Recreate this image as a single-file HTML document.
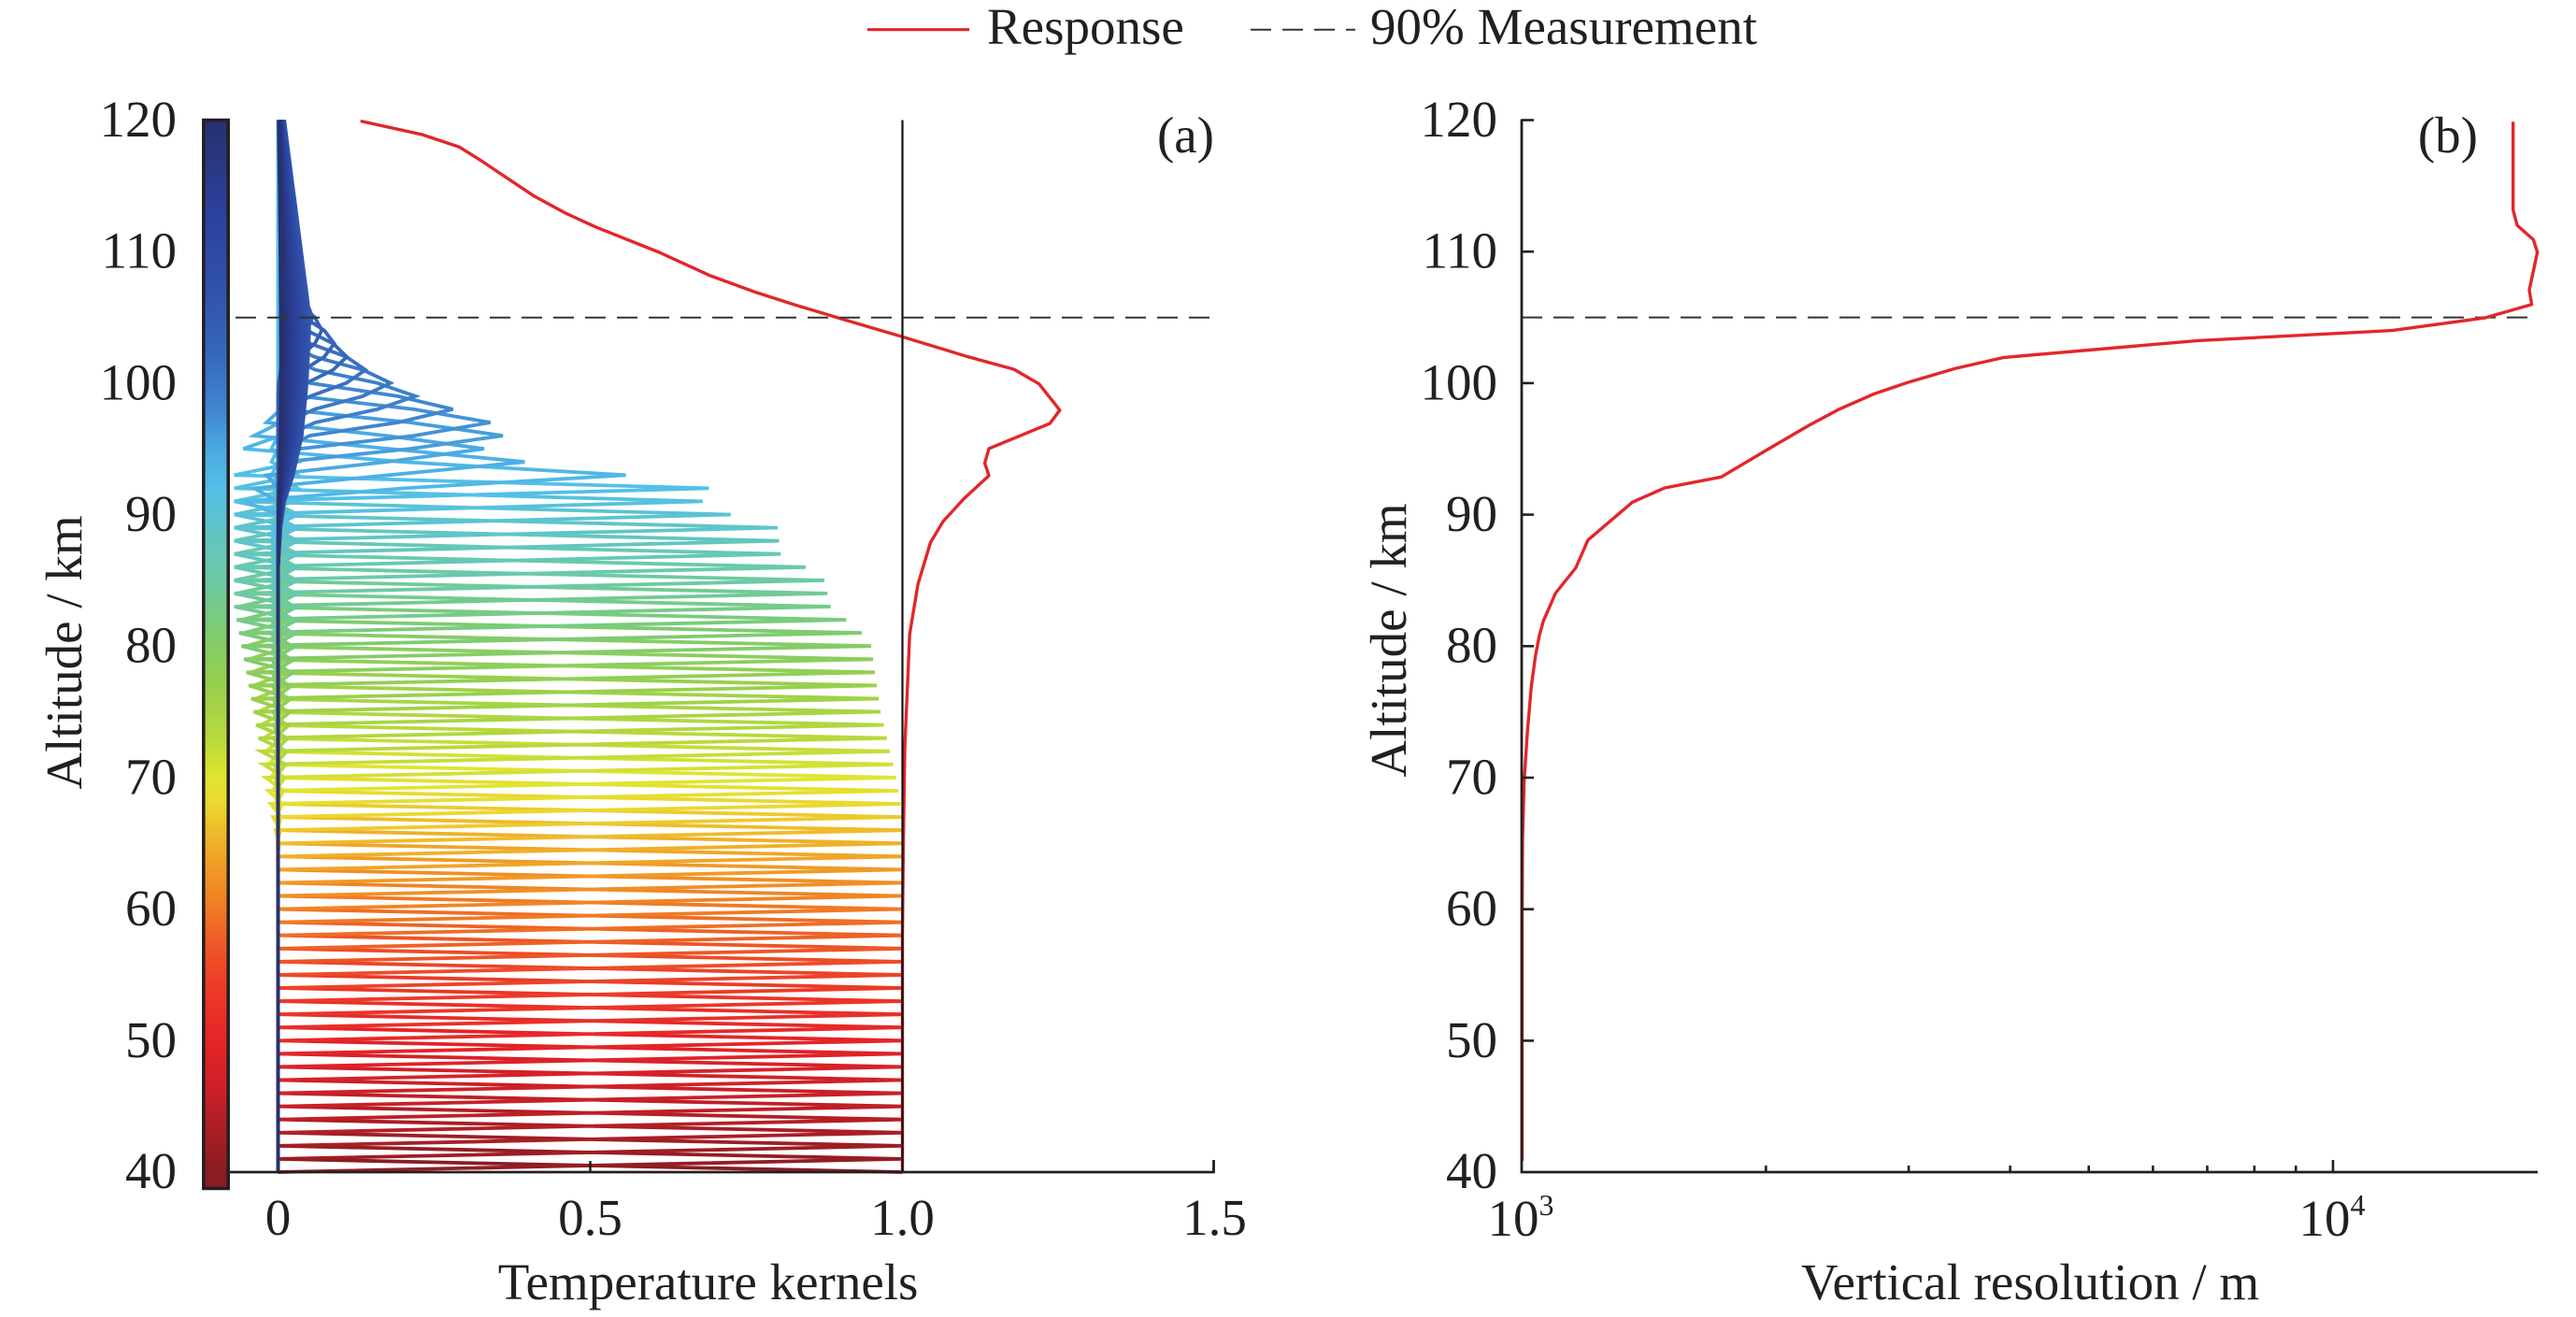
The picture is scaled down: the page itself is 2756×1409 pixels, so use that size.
<!DOCTYPE html>
<html>
<head>
<meta charset="utf-8">
<style>
html,body{margin:0;padding:0;background:#fff;}
svg{display:block;}
text{font-family:"Liberation Serif","Times New Roman",serif;fill:#231f20;}
</style>
</head>
<body>
<svg id="root" xmlns="http://www.w3.org/2000/svg" width="2756" height="1409" viewBox="0 0 2756 1409">
<defs>
<linearGradient id="cb" gradientUnits="userSpaceOnUse" x1="0" y1="128.5" x2="0" y2="1254">
<stop offset="0" stop-color="#28306e"/>
<stop offset="0.0875" stop-color="#2b419c"/>
<stop offset="0.1625" stop-color="#3152aa"/>
<stop offset="0.225" stop-color="#3669bb"/>
<stop offset="0.275" stop-color="#3f86cf"/>
<stop offset="0.3125" stop-color="#4aa9e1"/>
<stop offset="0.35" stop-color="#53bfe9"/>
<stop offset="0.3875" stop-color="#5fc5c8"/>
<stop offset="0.4375" stop-color="#6ccaa3"/>
<stop offset="0.4875" stop-color="#7fcb70"/>
<stop offset="0.5375" stop-color="#98d04c"/>
<stop offset="0.5875" stop-color="#b8d93c"/>
<stop offset="0.625" stop-color="#dfe531"/>
<stop offset="0.65" stop-color="#ead82f"/>
<stop offset="0.675" stop-color="#efbb2b"/>
<stop offset="0.7125" stop-color="#f09a26"/>
<stop offset="0.75" stop-color="#f07a24"/>
<stop offset="0.7875" stop-color="#ee5527"/>
<stop offset="0.825" stop-color="#ec3a28"/>
<stop offset="0.875" stop-color="#e52428"/>
<stop offset="0.925" stop-color="#c92027"/>
<stop offset="0.9625" stop-color="#a81e25"/>
<stop offset="1" stop-color="#8a1c22"/>
</linearGradient>
</defs>
<rect x="0" y="0" width="2756" height="1409" fill="#fff"/>

<!-- Legend -->
<line x1="928" y1="31.7" x2="1037" y2="31.7" stroke="#e3262b" stroke-width="3.2"/>
<text x="1056" y="47" font-size="55">Response</text>
<line x1="1338" y1="31.7" x2="1450" y2="31.7" stroke="#333" stroke-width="2" stroke-dasharray="22 12"/>
<text x="1466" y="47" font-size="55">90% Measurement</text>

<!-- Panel (a) -->
<rect x="217.8" y="128.5" width="26.4" height="1143" fill="url(#cb)" stroke="#231f20" stroke-width="3.5"/>
<g id="kern" fill="none" stroke-width="3.8"></g>
<polyline fill="none" stroke="#e3262b" stroke-width="3.4" stroke-linejoin="round" points="385.7,129.5 450.9,143.8 491,157.1 515,172 531.3,183 571.4,209.8 605,228 638.4,243.3 705.4,270 759,294.6 808,312.5 850,326 897.3,340.2 965.2,360.3 1035.7,381.7 1084.8,395.1 1111.6,410.7 1133.9,438.8 1123.2,453.1 1058,479.9 1053.6,495.5 1058,508.9 1031.3,533.5 1008.9,558 995.5,580.4 982.1,625 973.2,678.6 971.5,720 968,800 966.5,900 965.5,1000 965.5,1254"/>
<line x1="965.5" y1="128.5" x2="965.5" y2="1254" stroke="#111" stroke-width="2.2"/>
<line x1="252" y1="339.7" x2="1299.5" y2="339.7" stroke="#333" stroke-width="2" stroke-dasharray="22 12"/>
<line x1="246" y1="1254" x2="1299.5" y2="1254" stroke="#231f20" stroke-width="2.8"/>
<line x1="631.5" y1="1254" x2="631.5" y2="1242" stroke="#231f20" stroke-width="2.5"/>
<line x1="1298.5" y1="1255" x2="1298.5" y2="1241" stroke="#231f20" stroke-width="2.8"/>

<g font-size="55" text-anchor="end">
<text x="189" y="146">120</text>
<text x="189" y="286.6">110</text>
<text x="189" y="427.3">100</text>
<text x="189" y="568">90</text>
<text x="189" y="708.7">80</text>
<text x="189" y="849.4">70</text>
<text x="189" y="990.1">60</text>
<text x="189" y="1130.8">50</text>
<text x="189" y="1271">40</text>
</g>
<g font-size="55" text-anchor="middle">
<text x="297.5" y="1321">0</text>
<text x="631.5" y="1321">0.5</text>
<text x="965.5" y="1321">1.0</text>
<text x="1299.5" y="1321">1.5</text>
<text x="757.6" y="1390">Temperature kernels</text>
</g>
<text font-size="55" text-anchor="middle" transform="translate(87,698) rotate(-90)">Altitude / km</text>
<text x="1299" y="163" font-size="55" text-anchor="end">(a)</text>

<!-- Panel (b) -->
<line x1="1628" y1="339.6" x2="2715" y2="339.6" stroke="#333" stroke-width="2" stroke-dasharray="22 12"/>
<polyline fill="none" stroke="#e3262b" stroke-width="3.4" stroke-linejoin="round" points="2688.7,130.3 2688.7,224.8 2693.1,241.1 2710.4,256.4 2714.7,269.9 2706,310.4 2708.6,325.7 2658.5,340.1 2559.1,353.6 2351.6,364.4 2144.1,382.4 2092.2,394.1 2040.4,409.4 2005.8,421.1 1966.9,438.2 1936.6,454.4 1897.7,477 1841.5,510.3 1781,522 1746.4,537.3 1698.9,577.8 1685.9,607.5 1664.3,634.5 1651.3,664.2 1647,679.5 1642.7,702.1 1638.4,733.6 1634.1,783.1 1630.6,837.1 1628.9,900.1 1628.5,990 1628.5,1242"/>
<path d="M1628,127.5 V1255.4 M1626.6,1254 H2715" fill="none" stroke="#231f20" stroke-width="2.8"/>
<g stroke="#231f20" stroke-width="2.6">
<line x1="1628" y1="128.5" x2="1641" y2="128.5"/>
<line x1="1628" y1="269.2" x2="1641" y2="269.2"/>
<line x1="1628" y1="409.9" x2="1641" y2="409.9"/>
<line x1="1628" y1="550.6" x2="1641" y2="550.6"/>
<line x1="1628" y1="691.3" x2="1641" y2="691.3"/>
<line x1="1628" y1="832" x2="1641" y2="832"/>
<line x1="1628" y1="972.7" x2="1641" y2="972.7"/>
<line x1="1628" y1="1113.4" x2="1641" y2="1113.4"/>
<line x1="2496" y1="1254" x2="2496" y2="1241"/>
<line x1="1889.3" y1="1254" x2="1889.3" y2="1247"/>
<line x1="2042.1" y1="1254" x2="2042.1" y2="1247"/>
<line x1="2150.6" y1="1254" x2="2150.6" y2="1247"/>
<line x1="2234.7" y1="1254" x2="2234.7" y2="1247"/>
<line x1="2303.4" y1="1254" x2="2303.4" y2="1247"/>
<line x1="2361.5" y1="1254" x2="2361.5" y2="1247"/>
<line x1="2411.9" y1="1254" x2="2411.9" y2="1247"/>
<line x1="2456.3" y1="1254" x2="2456.3" y2="1247"/>
</g>
<g font-size="55" text-anchor="end">
<text x="1602" y="146">120</text>
<text x="1602" y="286.6">110</text>
<text x="1602" y="427.3">100</text>
<text x="1602" y="568">90</text>
<text x="1602" y="708.7">80</text>
<text x="1602" y="849.4">70</text>
<text x="1602" y="990.1">60</text>
<text x="1602" y="1130.8">50</text>
<text x="1602" y="1271">40</text>
</g>
<g font-size="55" text-anchor="middle">
<text x="1627" y="1322">10<tspan font-size="32" dy="-22">3</tspan></text>
<text x="2495" y="1322">10<tspan font-size="32" dy="-22">4</tspan></text>
<text x="2172" y="1390">Vertical resolution / m</text>
</g>
<text font-size="55" text-anchor="middle" transform="translate(1504,685) rotate(-90)">Altitude / km</text>
<text x="2651" y="163" font-size="55" text-anchor="end">(b)</text>
</svg>

<script>
(function(){
var g=document.getElementById('kern');
var X0=297.5,XS=668,Y40=1254,YS=14.07;
var stops=[[40,'#8a1c22'],[43,'#a81e25'],[46,'#c92027'],[50,'#e52428'],[54,'#ec3a28'],[57,'#ee5527'],[60,'#f07a24'],[63,'#f09a26'],[66,'#efbb2b'],[68,'#ead82f'],[70,'#dfe531'],[73,'#b8d93c'],[77,'#98d04c'],[81,'#7fcb70'],[85,'#6ccaa3'],[89,'#5fc5c8'],[92,'#53bfe9'],[95,'#4aa9e1'],[98,'#3f86cf'],[102,'#3669bb'],[107,'#3152aa'],[113,'#2b419c'],[120,'#28306e']];
function h2r(h){return [parseInt(h.substr(1,2),16),parseInt(h.substr(3,2),16),parseInt(h.substr(5,2),16)];}
function cmap(z){
  for(var k=0;k<stops.length-1;k++){
    var z0=stops[k][0],z1=stops[k+1][0];
    if(z<=z1){var t=(z-z0)/(z1-z0);var a=h2r(stops[k][1]),b=h2r(stops[k+1][1]);
      return 'rgb('+Math.round(a[0]+(b[0]-a[0])*t)+','+Math.round(a[1]+(b[1]-a[1])*t)+','+Math.round(a[2]+(b[2]-a[2])*t)+')';}
  }
  return stops[stops.length-1][1];
}
function lt(t,z){
  if(z<=t[0][0])return t[0][1];
  for(var k=0;k<t.length-1;k++){
    if(z<=t[k+1][0]){var f=(z-t[k][0])/(t[k+1][0]-t[k][0]);return t[k][1]+(t[k+1][1]-t[k][1])*f;}
  }
  return t[t.length-1][1];
}
function clamp(v,a,b){return v<a?a:(v>b?b:v);}
var peakT=[[40,1],[66,1],[68,0.997],[70,0.99],[75,0.965],[80,0.95],[81,0.935],[82,0.91],[83,0.885],[85,0.875],[86,0.845],[87,0.805],[89,0.80],[90,0.725],[91,0.68],[92,0.69],[93,0.557],[94,0.395],[95,0.33],[96,0.36],[97,0.34],[98,0.28],[99,0.22],[100,0.18],[101,0.14],[102,0.11],[103,0.09],[104,0.07],[105,0.055]];
var envT=[[40,0],[86,0],[89,0.004],[91,0.01],[93,0.024],[96,0.038],[100,0.046],[104,0.05],[106,0.048],[120,0.01]];
function kern(zi,z){
  var d=z-zi,ad=Math.abs(d);
  if(zi<=92){
    var p=lt(peakT,zi);
    if(d===0)return p;
    var a=0.07*clamp((zi-66)/18,0,1);
    if(ad===1)return -a;
    if(ad===2)return a*0.45;
    if(ad===3)return -a*0.15;
    return 0;
  } else if(zi<=105){
    var p2=lt(peakT,zi);
    var s=0.7+(zi-93)*0.09;
    var v=p2*Math.exp(-0.5*(d/s)*(d/s));
    var n=0.065*clamp((99-zi)/6,0,1);
    if(ad===2)v-=n;
    if(d>2)v=Math.max(v,0.004);
    return v;
  } else {
    var A=1-(zi-106)/14*0.9;
    return lt(envT,z)*A;
  }
}
var html='';
for(var zi=40;zi<=120;zi++){
  var dstr='';
  for(var z=40;z<=120;z++){
    var v=kern(zi,z);
    dstr+=(z===40?'M':'L')+(X0+v*XS).toFixed(1)+' '+(Y40-(z-40)*YS).toFixed(1);
  }
  html+='<path d="'+dstr+'" stroke="'+cmap(zi)+'"/>';
}
g.innerHTML=html;
})();
</script>
</body>
</html>
